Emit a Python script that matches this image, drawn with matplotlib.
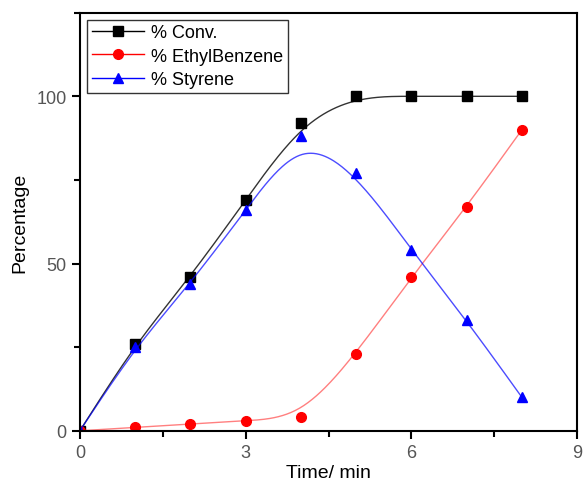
#!/usr/bin/env python3
# -*- coding: utf-8 -*-
"""
conversion / selectivity vs time, smoothed with a cubic B-spline like Origin does
"""
import numpy as np
import matplotlib
matplotlib.use('Agg')
import matplotlib.pyplot as plt
from matplotlib.ticker import MultipleLocator

plt.rcParams['font.family'] = ['Liberation Sans', 'DejaVu Sans']

#%% data
time = [0, 1, 2, 3, 4, 5, 6, 7, 8]
conv = [0, 26, 46, 69, 92, 100, 100, 100, 100]
ethylbenzene = [0, 1, 2, 3, 4, 23, 46, 67, 90]
styrene = [0, 25, 44, 66, 88, 77, 54, 33, 10]


def bspline(x, y, n=40):
    # uniform cubic B-spline, data as control points, clamped ends via phantom points
    p = np.column_stack([x, y]).astype(float)
    p = np.vstack([2*p[0] - p[1], p, 2*p[-1] - p[-2]])
    out = []
    for i in range(len(p) - 3):
        t = np.linspace(0, 1, n)[:, None]
        b0 = (1 - t)**3 / 6
        b1 = (3*t**3 - 6*t**2 + 4) / 6
        b2 = (-3*t**3 + 3*t**2 + 3*t + 1) / 6
        b3 = t**3 / 6
        out.append(b0*p[i] + b1*p[i+1] + b2*p[i+2] + b3*p[i+3])
    out = np.vstack(out)
    return out[:, 0], out[:, 1]


#%%
fig = plt.figure(figsize=(5.83, 4.89), dpi=100)
ax = fig.add_axes([0.137, 0.117, 0.853, 0.855])

series = [(conv, 'k', 's', '% Conv.', 0.8),
          (ethylbenzene, 'red', 'o', '% EthylBenzene', 0.5),
          (styrene, 'blue', '^', '% Styrene', 0.7)]
for y, c, m, lab, a in series:
    sx, sy = bspline(time, y)
    ax.plot(sx, sy, color=c, lw=1, alpha=a)
    ax.plot(time, y, ls='none', marker=m, color=c, ms=7)
    ax.plot([], [], color=c, marker=m, ms=7, lw=1, label=lab)

ax.set_xlim(0, 9)
ax.set_ylim(0, 125)
ax.xaxis.set_major_locator(MultipleLocator(3))
ax.xaxis.set_minor_locator(MultipleLocator(1.5))
ax.yaxis.set_major_locator(MultipleLocator(50))
ax.yaxis.set_minor_locator(MultipleLocator(25))
ax.tick_params(which='major', length=6, width=1.5, labelsize=13, labelcolor='#555555', direction='out')
ax.tick_params(which='minor', length=4, width=1.5, direction='out')
for s in ax.spines.values():
    s.set_linewidth(1.5)

ax.set_xlabel('Time/ min', fontsize=14, labelpad=2)
ax.set_ylabel('Percentage', fontsize=14, labelpad=6)

leg = ax.legend(loc='upper left', bbox_to_anchor=(0.0, 1.0), fontsize=13,
                frameon=True, fancybox=False, edgecolor='k', handlelength=2.9,
                handletextpad=0.4, borderpad=0.25, labelspacing=0.35, borderaxespad=0.4)
leg.get_frame().set_linewidth(1)

plt.savefig('out.png', dpi=100)
